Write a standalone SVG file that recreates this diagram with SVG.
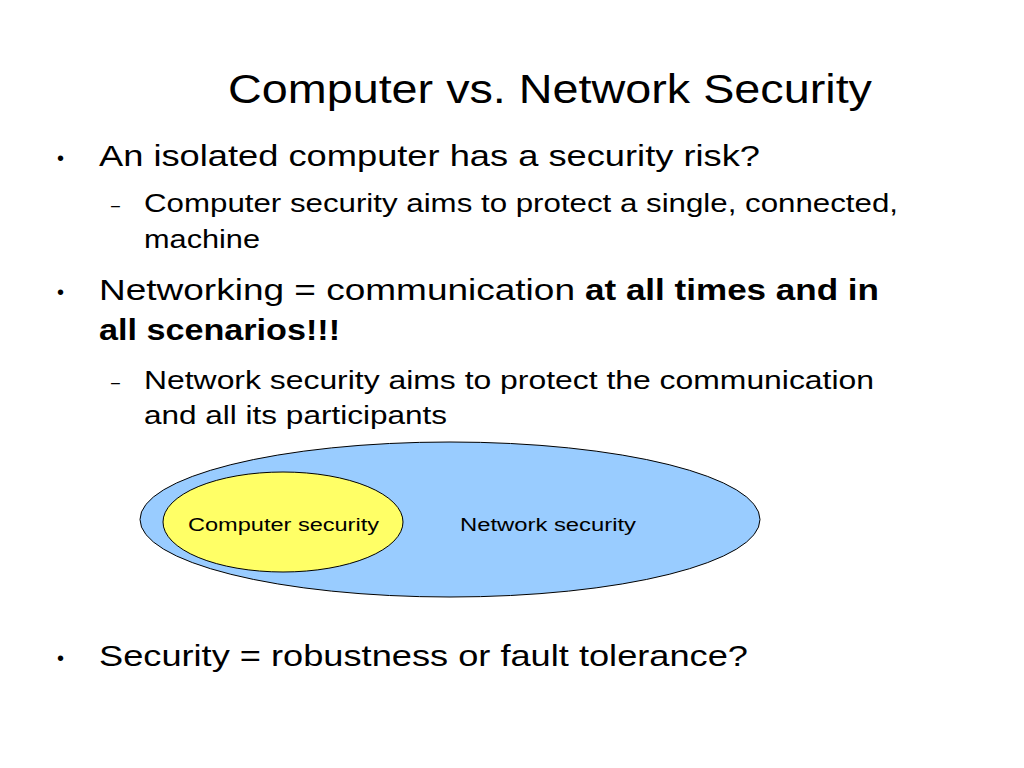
<svg xmlns="http://www.w3.org/2000/svg" width="1024" height="768" viewBox="0 0 1024 768">
<style>
text{font-family:"Liberation Sans",Arial,sans-serif;fill:#000}
.t{font-size:40px}
.b{font-size:29px}
.s{font-size:25px}
.l{font-size:18px}
.bold{font-weight:bold}
.dot{font-size:20px}
.dash{font-size:16px}
.shape{stroke:#000;stroke-width:1}
</style>
<rect width="1024" height="768" fill="#fff"/>
<text class="t" x="228" y="103" textLength="644" lengthAdjust="spacingAndGlyphs">Computer vs. Network Security</text>
<g id="bullets">
<text class="dot" x="57" y="165">•</text>
<text class="b" x="99" y="166" textLength="661" lengthAdjust="spacingAndGlyphs">An isolated computer has a security risk?</text>
<text class="dash" x="111" y="211">–</text>
<text class="s" x="144" y="212" textLength="754" lengthAdjust="spacingAndGlyphs">Computer security aims to protect a single, connected,</text>
<text class="s" x="144" y="248" textLength="116" lengthAdjust="spacingAndGlyphs">machine</text>
<text class="dot" x="57" y="299">•</text>
<text class="b" x="99" y="300" textLength="476" lengthAdjust="spacingAndGlyphs">Networking = communication</text>
<text class="b bold" x="585" y="300" textLength="294" lengthAdjust="spacingAndGlyphs">at all times and in</text>
<text class="b bold" x="99" y="340" textLength="241" lengthAdjust="spacingAndGlyphs">all scenarios!!!</text>
<text class="dash" x="111" y="388">–</text>
<text class="s" x="144" y="389" textLength="730" lengthAdjust="spacingAndGlyphs">Network security aims to protect the communication</text>
<text class="s" x="144" y="424" textLength="303" lengthAdjust="spacingAndGlyphs">and all its participants</text>
<text class="dot" x="57" y="665">•</text>
<text class="b" x="99" y="666" textLength="649" lengthAdjust="spacingAndGlyphs">Security = robustness or fault tolerance?</text>
</g>
<g id="network-security">
<ellipse class="shape" cx="450" cy="519.5" rx="310" ry="77.5" fill="#99CCFF"/>
<text class="l" x="460" y="531" textLength="176" lengthAdjust="spacingAndGlyphs">Network security</text>
</g>
<g id="computer-security">
<ellipse class="shape" cx="283" cy="522" rx="120" ry="50" fill="#FFFF66"/>
<text class="l" x="188" y="531" textLength="191" lengthAdjust="spacingAndGlyphs">Computer security</text>
</g>
</svg>
